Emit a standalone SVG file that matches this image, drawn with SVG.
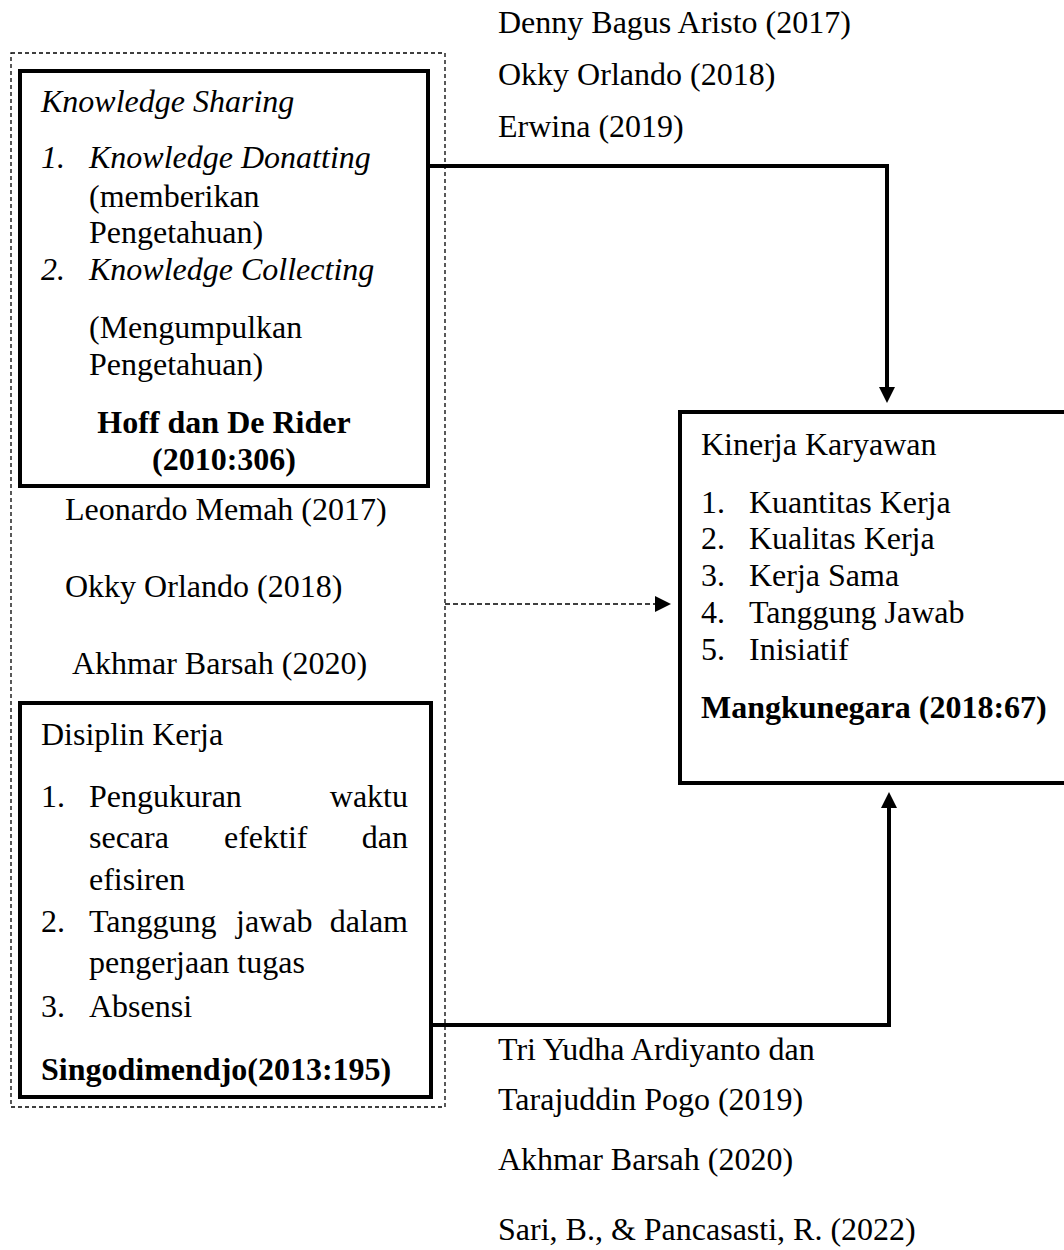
<svg xmlns="http://www.w3.org/2000/svg" width="1064" height="1250" viewBox="0 0 1064 1250">
<style>
.t{font-family:"Liberation Serif","Times New Roman",serif;font-size:32px;fill:#000}
.i{font-style:italic}
.b{font-weight:bold}
.box{fill:none;stroke:#000;stroke-width:4}
.dash{fill:none;stroke:#000;stroke-width:1.3;stroke-dasharray:4 3}
.conn{fill:none;stroke:#000;stroke-width:4}
.dconn{fill:none;stroke:#000;stroke-width:1.5;stroke-dasharray:5 3}
</style>
<defs>
<marker id="ah" markerUnits="userSpaceOnUse" markerWidth="16" markerHeight="16" refX="8" refY="8" orient="auto">
<path d="M0,0 L16,8 L0,16 z" fill="#000"/>
</marker>
</defs>
<rect width="1064" height="1250" fill="#fff"/>

<g id="group-outer">
<rect class="dash" x="11" y="53" width="434" height="1054"/>
</g>

<g id="node-knowledge-sharing">
<rect class="box" x="20" y="71" width="408" height="415"/>
<text class="t i" x="41" y="112">Knowledge Sharing</text>
<text class="t i" x="41" y="168">1.</text>
<text class="t i" x="89" y="168">Knowledge Donatting</text>
<text class="t" x="89" y="207">(memberikan</text>
<text class="t" x="89" y="243">Pengetahuan)</text>
<text class="t i" x="41" y="280">2.</text>
<text class="t i" x="89" y="280">Knowledge Collecting</text>
<text class="t" x="89" y="338">(Mengumpulkan</text>
<text class="t" x="89" y="375">Pengetahuan)</text>
<text class="t b" x="224" y="433" text-anchor="middle">Hoff dan De Rider</text>
<text class="t b" x="224" y="470" text-anchor="middle">(2010:306)</text>
</g>

<g id="node-disiplin-kerja">
<rect class="box" x="20" y="703" width="411" height="394"/>
<text class="t" x="41" y="745">Disiplin Kerja</text>
<text class="t" x="41" y="807">1.</text>
<text class="t" x="89" y="807">Pengukuran</text>
<text class="t" x="408" y="807" text-anchor="end">waktu</text>
<text class="t" x="89" y="848">secara</text>
<text class="t" x="224" y="848">efektif</text>
<text class="t" x="408" y="848" text-anchor="end">dan</text>
<text class="t" x="89" y="890">efisiren</text>
<text class="t" x="41" y="932">2.</text>
<text class="t" x="89" y="932">Tanggung</text>
<text class="t" x="236" y="932">jawab</text>
<text class="t" x="408" y="932" text-anchor="end">dalam</text>
<text class="t" x="89" y="973">pengerjaan tugas</text>
<text class="t" x="41" y="1017">3.</text>
<text class="t" x="89" y="1017">Absensi</text>
<text class="t b" x="41" y="1080">Singodimendjo(2013:195)</text>
</g>

<g id="node-kinerja-karyawan">
<rect class="box" x="680" y="412" width="400" height="371"/>
<text class="t" x="701" y="455">Kinerja Karyawan</text>
<text class="t" x="701" y="513">1.</text>
<text class="t" x="749" y="513">Kuantitas Kerja</text>
<text class="t" x="701" y="549">2.</text>
<text class="t" x="749" y="549">Kualitas Kerja</text>
<text class="t" x="701" y="586">3.</text>
<text class="t" x="749" y="586">Kerja Sama</text>
<text class="t" x="701" y="623">4.</text>
<text class="t" x="749" y="623">Tanggung Jawab</text>
<text class="t" x="701" y="660">5.</text>
<text class="t" x="749" y="660">Inisiatif</text>
<text class="t b" x="701" y="718">Mangkunegara (2018:67)</text>
</g>

<g id="connectors">
<path class="conn" d="M428,166 H887 V395" marker-end="url(#ah)"/>
<path class="conn" d="M431,1025 H889 V800" marker-end="url(#ah)"/>
<path class="dconn" d="M445,604 H663" marker-end="url(#ah)"/>
</g>

<g id="labels">
<text class="t" x="498" y="33">Denny Bagus Aristo (2017)</text>
<text class="t" x="498" y="85">Okky Orlando (2018)</text>
<text class="t" x="498" y="137">Erwina (2019)</text>
<text class="t" x="65" y="520">Leonardo Memah (2017)</text>
<text class="t" x="65" y="597">Okky Orlando (2018)</text>
<text class="t" x="72" y="674">Akhmar Barsah (2020)</text>
<text class="t" x="498" y="1060">Tri Yudha Ardiyanto dan</text>
<text class="t" x="498" y="1110">Tarajuddin Pogo (2019)</text>
<text class="t" x="498" y="1170">Akhmar Barsah (2020)</text>
<text class="t" x="498" y="1240">Sari, B., &amp; Pancasasti, R. (2022)</text>
</g>
</svg>
